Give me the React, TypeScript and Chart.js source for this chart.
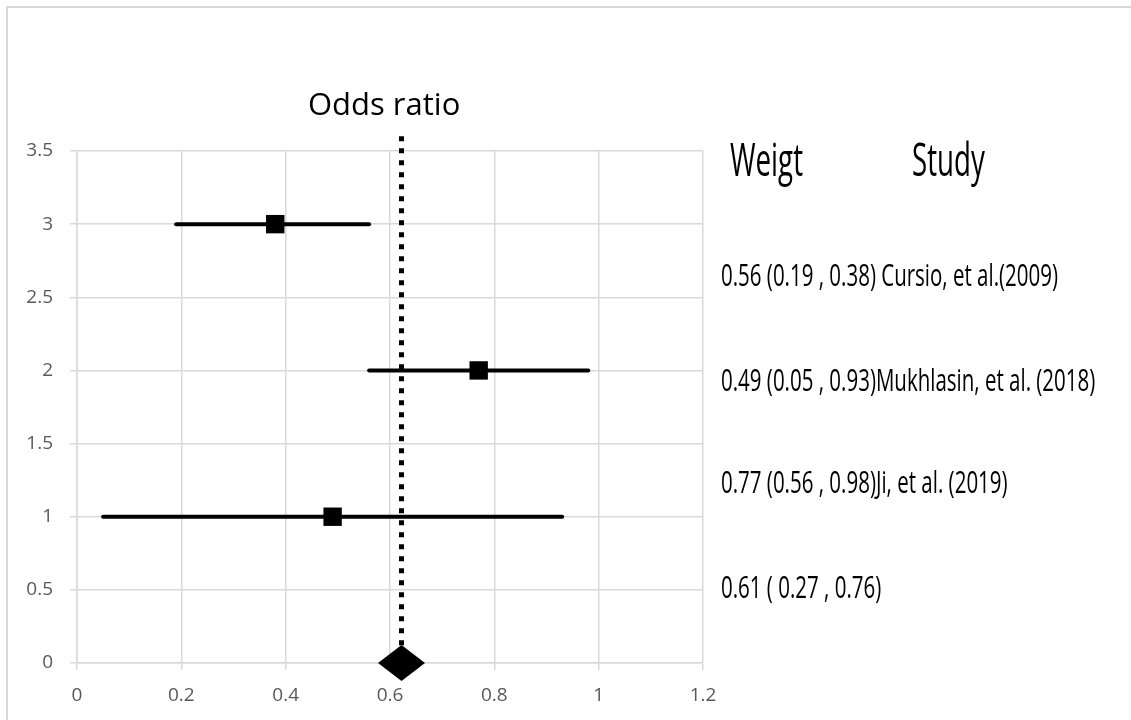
import React, { useEffect, useRef } from "react";
import { Chart, registerables } from "chart.js";

Chart.register(...registerables);

// ---- data ----
const studyRows = [3, 2, 1];
const studyEstimates = [0.38, 0.77, 0.49];
const studyLower = [0.19, 0.56, 0.05];
const studyUpper = [0.56, 0.98, 0.93];
const pooledEstimate = 0.622;
const pooledRow = 0;
const referenceLineTop = 3.6;
const xMin = 0;
const xMax = 1.2;
const xStep = 0.2;
const yMin = 0;
const yMax = 3.5;
const yStep = 0.5;
const titleText = "Odds ratio";
const headerLabels = ["Weigt", "Study"];
const rowLabels = [
  "0.56 (0.19 , 0.38) Cursio, et al.(2009)",
  "0.49 (0.05 , 0.93)Mukhlasin, et al. (2018)",
  "0.77 (0.56 , 0.98)Ji, et al. (2019)",
  "0.61 ( 0.27 , 0.76)",
];

const FONT = "'Open Sans', 'DejaVu Sans', sans-serif";

function makeDiamond(w: number, h: number) {
  const c = document.createElement("canvas");
  c.width = w;
  c.height = h;
  const ctx = c.getContext("2d")!;
  ctx.fillStyle = "#000000";
  ctx.beginPath();
  ctx.moveTo(w / 2, 0);
  ctx.lineTo(w, h / 2);
  ctx.lineTo(w / 2, h);
  ctx.lineTo(0, h / 2);
  ctx.closePath();
  ctx.fill();
  return c;
}

const decorPlugin = {
  id: "decor",
  beforeDraw(chart: any) {
    const ctx = chart.ctx;
    ctx.save();
    ctx.fillStyle = "#ffffff";
    ctx.fillRect(0, 0, chart.width, chart.height);
    ctx.strokeStyle = "#d9d9d9";
    ctx.lineWidth = 2;
    ctx.beginPath();
    ctx.moveTo(7, chart.height);
    ctx.lineTo(7, 7);
    ctx.lineTo(chart.width, 7);
    ctx.stroke();
    ctx.restore();
  },
  afterDraw(chart: any) {
    const ctx = chart.ctx;
    ctx.save();
    ctx.fillStyle = "#000000";
    ctx.textBaseline = "alphabetic";
    ctx.textAlign = "left";

    // title
    ctx.font = `31px ${FONT}`;
    ctx.fillText(titleText, 308, 115);

    // header
    ctx.font = `45px ${FONT}`;
    const hScale = 73 / ctx.measureText(headerLabels[0]).width;
    const headerX = [730, 912];
    headerLabels.forEach((t, i) => {
      ctx.save();
      ctx.translate(headerX[i], 176);
      ctx.scale(hScale, 1);
      ctx.fillText(t, 0, 0);
      ctx.restore();
    });

    // rows
    ctx.font = `31px ${FONT}`;
    const rScale = 337 / ctx.measureText(rowLabels[0]).width;
    const rowBaselines = [286, 391, 493, 598];
    rowLabels.forEach((t, i) => {
      ctx.save();
      ctx.translate(721, rowBaselines[i]);
      ctx.scale(rScale, 1);
      ctx.fillText(t, 0, 0);
      ctx.restore();
    });
    ctx.restore();
  },
};

export default function App() {
  const ref = useRef<HTMLCanvasElement | null>(null);

  useEffect(() => {
    if (!ref.current) return;
    const diamond = makeDiamond(47, 36);

    const ciSets = studyRows.map((row, i) => ({
      type: "line" as const,
      data: [
        { x: studyLower[i], y: row },
        { x: studyUpper[i], y: row },
      ],
      borderColor: "#000000",
      borderWidth: 4,
      borderCapStyle: "round" as const,
      pointRadius: 0,
      showLine: true,
      clip: false as any,
      order: 2,
    }));

    const chart = new Chart(ref.current, {
      type: "line",
      data: {
        datasets: [
          {
            data: [{ x: pooledEstimate, y: pooledRow }],
            pointStyle: diamond as any,
            pointRadius: 20,
            showLine: false,
            clip: false as any,
            order: 0,
          },
          {
            data: studyRows.map((row, i) => ({ x: studyEstimates[i], y: row })),
            pointStyle: "rect",
            pointRadius: 13,
            backgroundColor: "#000000",
            borderWidth: 0,
            showLine: false,
            clip: false as any,
            order: 1,
          },
          ...ciSets,
          {
            data: [
              { x: pooledEstimate, y: referenceLineTop },
              { x: pooledEstimate, y: pooledRow },
            ],
            borderColor: "#000000",
            borderWidth: 5,
            borderDash: [5, 7],
            borderCapStyle: "butt",
            pointRadius: 0,
            showLine: true,
            clip: false as any,
            order: 3,
          },
        ] as any,
      },
      options: {
        responsive: false,
        animation: false,
        events: [],
        layout: { padding: { left: 0, top: 151, right: 428, bottom: 17 } },
        plugins: {
          legend: { display: false },
          tooltip: { enabled: false },
          title: { display: false },
        },
        scales: {
          x: {
            type: "linear",
            min: xMin,
            max: xMax,
            ticks: {
              stepSize: xStep,
              color: "#595959",
              font: { family: FONT, size: 19 },
              padding: 14,
              callback: (v: any) => String(Number(Number(v).toFixed(1))),
            },
            grid: { color: "#d9d9d9", lineWidth: 1.5, tickLength: 7 },
            border: { color: "#d9d9d9", width: 1.5 },
            afterFit: (s: any) => {
              s.height = 40;
            },
          },
          y: {
            type: "linear",
            min: yMin,
            max: yMax,
            ticks: {
              stepSize: yStep,
              color: "#595959",
              font: { family: FONT, size: 19 },
              padding: 17,
              callback: (v: any) => String(Number(Number(v).toFixed(1))),
            },
            grid: { color: "#d9d9d9", lineWidth: 1.5, tickLength: 7 },
            border: { color: "#d9d9d9", width: 1.5 },
            afterFit: (s: any) => {
              s.width = 77;
            },
          },
        },
      },
      plugins: [decorPlugin],
    });
    return () => chart.destroy();
  }, []);

  return (
    <div style={{ position: "absolute", left: 0, top: 0, width: 1131, height: 720 }}>
      <canvas ref={ref} width={1131} height={720} />
    </div>
  );
}
